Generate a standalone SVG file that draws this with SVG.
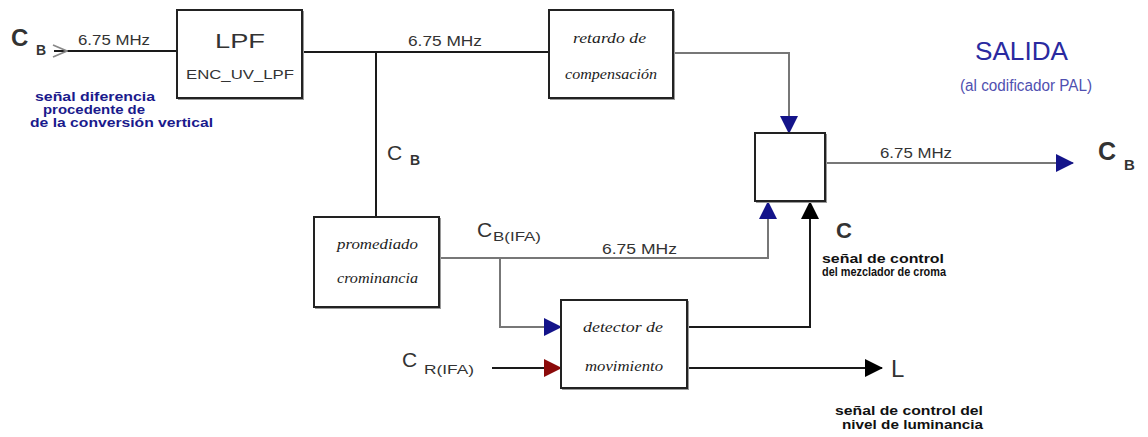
<svg xmlns="http://www.w3.org/2000/svg" width="1148" height="437" viewBox="0 0 1148 437">
  <style>
    .box { fill: #ffffff; stroke: #222222; stroke-width: 2; }
    .shade { fill: none; stroke: #9a9a9a; stroke-width: 2; }
    .wire { fill: none; stroke: #1a1a1a; stroke-width: 2; }
    .wire-g { fill: none; stroke: #777777; stroke-width: 2; }
    .lbl { font-family: "Liberation Sans", Arial, sans-serif; fill: #333333; }
    .freq { font-family: "Liberation Sans", Arial, sans-serif; font-size: 15px; fill: #333333; }
    .inner { font-family: "Liberation Serif", serif; font-style: italic; font-size: 15px; fill: #222222; }
    .sig { font-family: "Liberation Sans", Arial, sans-serif; font-weight: bold; font-size: 13px; fill: #111111; }
    .blue { fill: #1a1a8c; }
  </style>
  <defs>
    <marker id="ah-blue" viewBox="0 0 18 18" refX="17" refY="9" markerWidth="18" markerHeight="18" markerUnits="userSpaceOnUse" orient="auto">
      <path d="M0,0 L18,9 L0,18 Z" fill="#14148a"/>
    </marker>
    <marker id="ah-black" viewBox="0 0 18 18" refX="17" refY="9" markerWidth="18" markerHeight="18" markerUnits="userSpaceOnUse" orient="auto">
      <path d="M0,0 L18,9 L0,18 Z" fill="#000000"/>
    </marker>
    <marker id="ah-red" viewBox="0 0 18 18" refX="17" refY="9" markerWidth="18" markerHeight="18" markerUnits="userSpaceOnUse" orient="auto">
      <path d="M0,0 L18,9 L0,18 Z" fill="#8b0a0a"/>
    </marker>
    <marker id="ah-open" viewBox="0 0 16 14" refX="2" refY="7" markerWidth="16" markerHeight="14" markerUnits="userSpaceOnUse" orient="auto">
      <path d="M1,1 L15,7 L1,13" fill="none" stroke="#888888" stroke-width="1.8"/>
    </marker>
  </defs>

  <!-- connectors -->
  <g id="connectors">
    <path class="wire" d="M54,51 H177" marker-start="url(#ah-open)"/>
    <path class="wire" d="M302,52 H549"/>
    <path class="wire" d="M376,52 V217"/>
    <path class="wire-g" d="M673,53 H789 V133" marker-end="url(#ah-blue)"/>
    <path class="wire-g" d="M825,163 H1073" marker-end="url(#ah-blue)"/>
    <path class="wire-g" d="M439,258 H768 V202" marker-end="url(#ah-blue)"/>
    <path class="wire-g" d="M500,258 V327 H561" marker-end="url(#ah-blue)"/>
    <path class="wire" d="M687,327 H810 V202" marker-end="url(#ah-black)"/>
    <path class="wire" d="M492,368 H561" marker-end="url(#ah-red)"/>
    <path class="wire" d="M687,368 H882" marker-end="url(#ah-black)"/>
  </g>

  <!-- input signal -->
  <g id="input-cb">
    <text class="lbl" x="11" y="46" font-size="24" font-weight="bold">C</text>
    <text class="lbl" x="36" y="55" font-size="14" font-weight="bold">B</text>
    <text class="freq" x="78" y="45" textLength="72" lengthAdjust="spacingAndGlyphs">6.75 MHz</text>
    <text class="sig blue" x="35" y="101" textLength="120" lengthAdjust="spacingAndGlyphs">señal diferencia</text>
    <text class="sig blue" x="43" y="114" textLength="102" lengthAdjust="spacingAndGlyphs">procedente de</text>
    <text class="sig blue" x="30" y="127" textLength="183" lengthAdjust="spacingAndGlyphs">de la conversión vertical</text>
  </g>

  <g id="lpf">
    <path class="shade" d="M178,99 H303 V11"/>
    <rect class="box" x="177" y="10" width="125" height="88"/>
    <text class="lbl" x="240" y="48" font-size="20" text-anchor="middle" textLength="50" lengthAdjust="spacingAndGlyphs">LPF</text>
    <text class="lbl" x="240" y="79" font-size="12" text-anchor="middle" textLength="108" lengthAdjust="spacingAndGlyphs">ENC_UV_LPF</text>
  </g>

  <text class="freq" x="408" y="46" textLength="74" lengthAdjust="spacingAndGlyphs">6.75 MHz</text>

  <g id="retardo">
    <path class="shade" d="M550,99 H674 V11"/>
    <rect class="box" x="549" y="10" width="124" height="88"/>
    <text class="inner" x="573" y="43" textLength="73" lengthAdjust="spacingAndGlyphs">retardo de</text>
    <text class="inner" x="565" y="79" textLength="92" lengthAdjust="spacingAndGlyphs">compensación</text>
  </g>

  <g id="cb-branch">
    <text class="lbl" x="387" y="160" font-size="21">C</text>
    <text class="lbl" x="410" y="165" font-size="14" font-weight="bold">B</text>
  </g>

  <g id="salida">
    <text x="975" y="60" font-family="Liberation Sans, Arial, sans-serif" font-size="25" fill="#2a2aa0" textLength="93" lengthAdjust="spacingAndGlyphs">SALIDA</text>
    <text x="960" y="91" font-family="Liberation Sans, Arial, sans-serif" font-size="16" fill="#5050b0" textLength="132" lengthAdjust="spacingAndGlyphs">(al codificador PAL)</text>
  </g>

  <g id="mezclador">
    <path class="shade" d="M756,202 H826 V134"/>
    <rect class="box" x="755" y="133" width="70" height="68"/>
  </g>

  <g id="output-cb">
    <text class="freq" x="880" y="158" textLength="72" lengthAdjust="spacingAndGlyphs">6.75 MHz</text>
    <text class="lbl" x="1098" y="160" font-size="25" font-weight="bold">C</text>
    <text class="lbl" x="1124" y="170" font-size="15" font-weight="bold">B</text>
  </g>

  <g id="promediado">
    <path class="shade" d="M315,308 H440 V218"/>
    <rect class="box" x="314" y="217" width="125" height="90"/>
    <text class="inner" x="337" y="249" textLength="81" lengthAdjust="spacingAndGlyphs">promediado</text>
    <text class="inner" x="337" y="283" textLength="81" lengthAdjust="spacingAndGlyphs">crominancia</text>
  </g>

  <g id="cb-ifa">
    <text class="lbl" x="477" y="237" font-size="21">C</text>
    <text class="lbl" x="493" y="241" font-size="13" textLength="48" lengthAdjust="spacingAndGlyphs">B(IFA)</text>
    <text class="freq" x="602" y="254" textLength="75" lengthAdjust="spacingAndGlyphs">6.75 MHz</text>
  </g>

  <g id="control-c">
    <text class="lbl" x="836" y="238" font-size="22" font-weight="bold">C</text>
    <text class="sig" x="822" y="263" font-size="12" textLength="122" lengthAdjust="spacingAndGlyphs">señal de control</text>
    <text class="sig" x="822" y="276" font-size="11" textLength="124" lengthAdjust="spacingAndGlyphs">del mezclador de croma</text>
  </g>

  <g id="detector">
    <path class="shade" d="M562,389 H688 V301"/>
    <rect class="box" x="561" y="300" width="126" height="88"/>
    <text class="inner" x="583" y="332" textLength="80" lengthAdjust="spacingAndGlyphs">detector de</text>
    <text class="inner" x="585" y="371" textLength="78" lengthAdjust="spacingAndGlyphs">movimiento</text>
  </g>

  <g id="cr-ifa">
    <text class="lbl" x="402" y="367" font-size="21">C</text>
    <text class="lbl" x="424" y="374" font-size="13" textLength="50" lengthAdjust="spacingAndGlyphs">R(IFA)</text>
  </g>

  <g id="output-l">
    <text class="lbl" x="891" y="377" font-size="24">L</text>
    <text class="sig" x="835" y="415" textLength="148" lengthAdjust="spacingAndGlyphs">señal de control del</text>
    <text class="sig" x="842" y="429" textLength="141" lengthAdjust="spacingAndGlyphs">nivel de luminancia</text>
  </g>
</svg>
